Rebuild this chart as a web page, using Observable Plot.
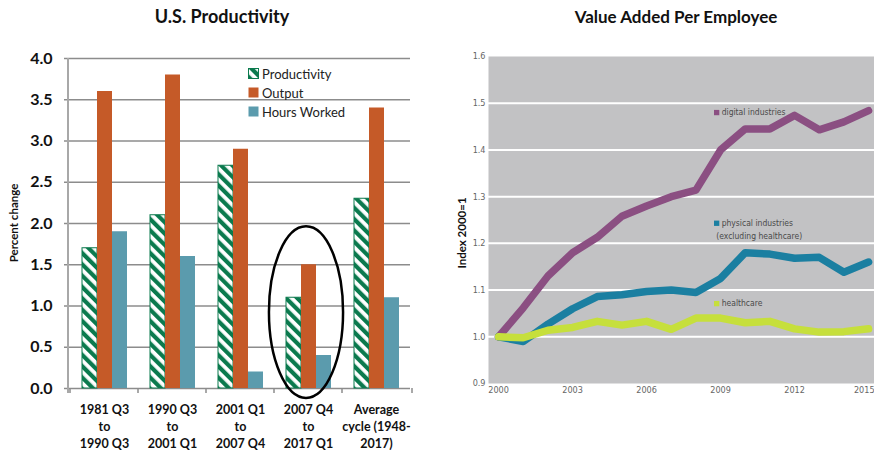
<!DOCTYPE html>
<html><head><meta charset="utf-8">
<script src="https://cdn.jsdelivr.net/npm/d3@7"></script>
<script src="https://cdn.jsdelivr.net/npm/@observablehq/plot@0.6"></script>
<style>
body{margin:0;background:#fff;}
#wrap{position:relative;width:874px;height:450px;overflow:hidden;font-family:Lato,"Open Sans",sans-serif;color:#111;}
.abs{position:absolute;}
.title{font-weight:bold;white-space:nowrap;transform:translate(-50%,-50%);}
.vlabel{font-weight:bold;white-space:nowrap;transform:translate(-50%,-50%) rotate(-90deg);}
.lgrow{display:flex;align-items:center;height:19px;font-size:13px;color:#222;white-space:nowrap;}
.lgrow svg{margin-right:3px;}
</style></head><body>
<svg width="0" height="0" style="position:absolute">
<defs>
<pattern id="hatch" patternUnits="userSpaceOnUse" width="8" height="8" patternTransform="rotate(-45)">
<rect width="8" height="8" fill="#fff"/><rect width="4.2" height="8" fill="#0b7a4e"/></pattern>
</defs></svg>
<div id="wrap">
 <div class="abs title" style="left:222px;top:16px;font-size:18px">U.S. Productivity</div>
 <div class="abs title" style="left:676px;top:16px;font-size:17px">Value Added Per Employee</div>
 <div class="abs vlabel" style="left:13px;top:223px;font-size:11.5px">Percent change</div>
 <div class="abs vlabel" style="left:461px;top:233px;font-size:11.5px">Index 2000=1</div>
 <div id="left" class="abs" style="left:0;top:40px"></div>
 <div id="right" class="abs" style="left:440px;top:40px"></div>
 <div id="legend" class="abs" style="left:248px;top:64px"></div>
</div>
<script>
// ---------- Left chart data ----------
const categories = ["1981 Q3\nto\n1990 Q3", "1990 Q3\nto\n2001 Q1", "2001 Q1\nto\n2007 Q4", "2007 Q4\nto\n2017 Q1", "Average\ncycle (1948-\n2017)"];
const seriesNames = ["Productivity", "Output", "Hours Worked"];
const productivity = [1.7, 2.1, 2.7, 1.1, 2.3];
const output = [3.6, 3.8, 2.9, 1.5, 3.4];
const hoursWorked = [1.9, 1.6, 0.2, 0.4, 1.1];
const yTicksLeft = [0, 0.5, 1.0, 1.5, 2.0, 2.5, 3.0, 3.5, 4.0];
const barColors = ["url(#hatch)", "#c55a28", "#5b9bad"];
const highlightCategory = categories[3];
const highlightY = [-0.12, 1.96]; // vertical extent of the circled annotation (data units)

// ---------- Right chart data ----------
const years = [2000, 2001, 2002, 2003, 2004, 2005, 2006, 2007, 2008, 2009, 2010, 2011, 2012, 2013, 2014, 2015];
const digital = [1.00, 1.062, 1.13, 1.18, 1.213, 1.258, 1.28, 1.30, 1.314, 1.40, 1.445, 1.445, 1.474, 1.443, 1.46, 1.484];
const physical = [1.00, 0.99, 1.027, 1.06, 1.086, 1.09, 1.097, 1.10, 1.095, 1.125, 1.18, 1.177, 1.168, 1.17, 1.138, 1.16];
const healthcare = [1.00, 0.998, 1.014, 1.02, 1.033, 1.025, 1.033, 1.016, 1.04, 1.04, 1.03, 1.033, 1.017, 1.01, 1.011, 1.017];
const lineSeries = ["digital industries", "physical industries", "healthcare"];
const lineColors = ["#8b4f82", "#1b7fa1", "#c6df3c"];
const xTicksRight = [2000, 2003, 2006, 2009, 2012, 2015];
const yTicksRight = [0.9, 1.0, 1.1, 1.2, 1.3, 1.4, 1.5, 1.6];
const gridRight = [1.0, 1.1, 1.2, 1.3, 1.4, 1.5];
const seriesLabels = [
  {series: "digital industries", text: "digital industries", year: 2008.84, value: 1.48, swatch: true},
  {series: "physical industries", text: "physical industries", year: 2008.84, value: 1.243, swatch: true},
  {series: "physical industries", text: "(excluding healthcare)", year: 2008.62, value: 1.215, swatch: false},
  {series: "healthcare", text: "healthcare", year: 2008.84, value: 1.071, swatch: true}
];

// ---------- Left chart ----------
const barRows = categories.flatMap((c, i) => [
  {category: c, series: seriesNames[0], value: productivity[i]},
  {category: c, series: seriesNames[1], value: output[i]},
  {category: c, series: seriesNames[2], value: hoursWorked[i]}
]);
const gridColor = "#8c8c8c";
const left = Plot.plot({
  width: 420, height: 410, marginLeft: 68, marginRight: 8, marginTop: 18, marginBottom: 62,
  style: {fontFamily: "Lato, 'Open Sans', sans-serif", background: "transparent", overflow: "visible", color: "#111"},
  fx: {domain: categories, paddingInner: 0, paddingOuter: 0, label: null},
  x: {domain: seriesNames, paddingInner: 0, paddingOuter: 0.7, axis: null},
  y: {domain: [0, 4], label: null},
  color: {domain: seriesNames.slice(1), range: barColors.slice(1)},
  marks: [
    Plot.gridY(yTicksLeft, {stroke: gridColor, strokeOpacity: 1, strokeWidth: 1.5}),
    Plot.barY(barRows.filter(d => d.series === seriesNames[0]), {fx: "category", x: "series", y: "value", fill: barColors[0], stroke: "#0b7a4e", strokeWidth: 1}),
    Plot.barY(barRows.filter(d => d.series !== seriesNames[0]), {fx: "category", x: "series", y: "value", fill: "series"}),
    Plot.axisY(yTicksLeft, {tickFormat: d3.format(".1f"), tickSize: 6, tickPadding: 12, fontSize: 16, fontWeight: "bold", stroke: gridColor, strokeWidth: 1.5, label: null}),
    Plot.axisFx({anchor: "bottom", tickSize: 0, tickPadding: 13, fontSize: 12.5, fontWeight: "bold", lineHeight: 1.36, label: null})
  ]
});
document.getElementById("left").appendChild(left);

// overlays derived from scales
(function () {
  const fxS = left.scale("fx"), yS = left.scale("y");
  const bw = fxS.bandwidth;
  const pos = d => fxS.apply(d);
  const x0 = fxS.range[0], x1 = fxS.range[1];
  const yb = yS.apply(0), yt = yS.apply(4);
  const g = d3.select(left).append("g");
  g.append("line").attr("x1", x0).attr("x2", x0).attr("y1", yb + 5).attr("y2", yt)
    .attr("stroke", "#a8a8a8").attr("stroke-width", 2);
  const bounds = fxS.domain.map(pos).concat([x1]);
  g.selectAll("line.bt").data(bounds).join("line").attr("class", "bt")
    .attr("x1", d => d).attr("x2", d => d).attr("y1", yb).attr("y2", yb + 5)
    .attr("stroke", gridColor).attr("stroke-width", 1.5);
  const cx = pos(highlightCategory) + bw / 2 - 2;
  const cyTop = yS.apply(highlightY[1]), cyBot = yS.apply(highlightY[0]);
  g.append("ellipse").attr("cx", cx).attr("cy", (cyTop + cyBot) / 2)
    .attr("rx", bw * 0.545).attr("ry", (cyBot - cyTop) / 2)
    .attr("fill", "none").attr("stroke", "#000").attr("stroke-width", 2.5);
})();

// legend
const lg = document.getElementById("legend");
seriesNames.forEach((s, i) => {
  const row = document.createElement("div");
  row.className = "lgrow";
  const stroke = i === 0 ? ' stroke="#0b7a4e" stroke-width="1"' : "";
  row.innerHTML = `<svg width="11" height="11"><rect x="0.5" y="0.5" width="10" height="10" fill="${barColors[i]}"${stroke}/></svg><span>${s}</span>`;
  lg.appendChild(row);
});

// ---------- Right chart ----------
const seriesValues = [digital, physical, healthcare];
const lineRows = lineSeries.flatMap((s, k) => years.map((y, i) => ({series: s, year: y, value: seriesValues[k][i]})));
const smallFont = "'Liberation Sans Narrow', 'DejaVu Sans Condensed', 'Open Sans', sans-serif";
const lastTick = xTicksRight[xTicksRight.length - 1];
const right = Plot.plot({
  width: 434, height: 410, marginLeft: 48, marginRight: 0, marginTop: 16, marginBottom: 67,
  style: {fontFamily: smallFont, background: "transparent", overflow: "hidden"},
  x: {domain: [1999.59, 2015.24], label: null},
  y: {domain: [0.9, 1.6], label: null},
  color: {domain: lineSeries, range: lineColors},
  marks: [
    Plot.frame({fill: "#c2c2c4", stroke: "none"}),
    Plot.gridY(gridRight, {stroke: "#fff", strokeOpacity: 1, strokeWidth: 2}),
    Plot.axisX(xTicksRight.slice(0, -1), {tickFormat: d3.format("d"), tickSize: 0, tickPadding: 3, fontSize: 9, fill: "#666", label: null}),
    Plot.axisX([lastTick], {tickFormat: d3.format("d"), tickSize: 0, tickPadding: 3, fontSize: 9, fill: "#666", label: null, textAnchor: "end", dx: 6}),
    Plot.axisY(yTicksRight, {tickFormat: d3.format(".1f"), tickSize: 0, tickPadding: 3, fontSize: 9, fill: "#666", label: null}),
    Plot.lineY(lineRows, {x: "year", y: "value", z: "series", stroke: "series", strokeWidth: 7.5, strokeLinejoin: "round", strokeLinecap: "round"}),
    Plot.dot(seriesLabels.filter(d => d.swatch), {x: "year", y: "value", symbol: "square", r: 3, fill: "series", stroke: "none"}),
    Plot.text(seriesLabels, {x: "year", y: "value", text: "text", textAnchor: "start", dx: 5, fontSize: 8.5, fill: "#4a4a4a"})
  ]
});
document.getElementById("right").appendChild(right);
</script>
</body></html>
